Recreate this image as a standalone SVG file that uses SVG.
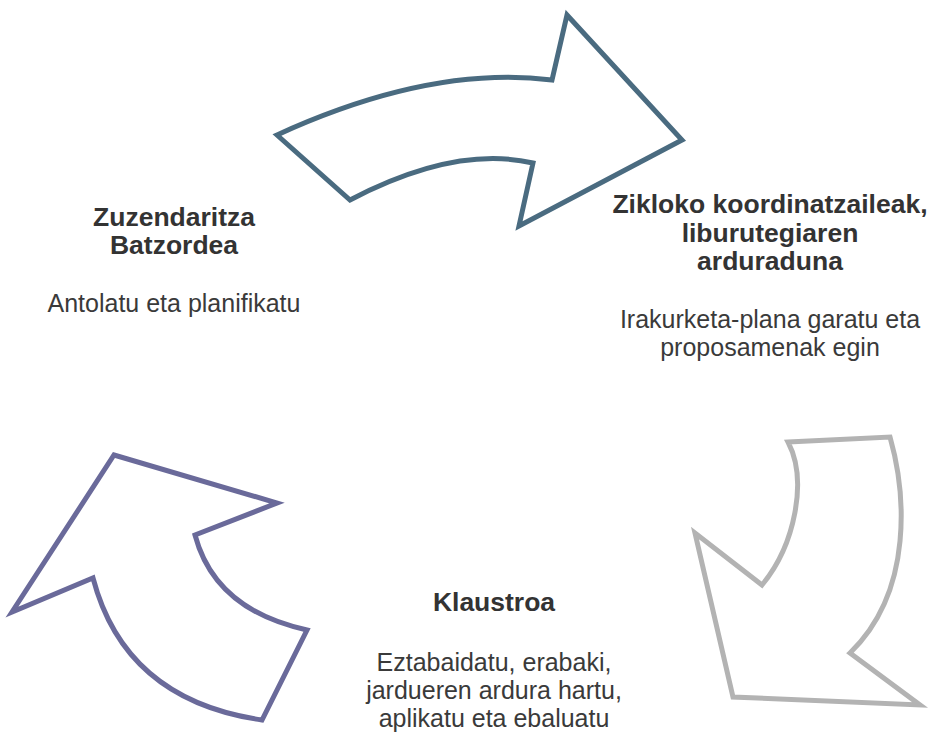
<svg xmlns="http://www.w3.org/2000/svg" width="933" height="733" viewBox="0 0 933 733">
<style>
.arrow{fill:#ffffff;stroke-width:5;stroke-linejoin:miter;stroke-miterlimit:10}
.t{font-family:"Liberation Sans",Arial,sans-serif;fill:#3a3a3a;text-anchor:middle}
.b{font-weight:bold;font-size:26.5px;fill:#333333}
.r{font-size:25px}
</style>
<rect width="933" height="733" fill="#ffffff"/>
<g id="connectors">
<path id="arrow-top" class="arrow" stroke="#4a6b80" d="M277,135 Q430,65 552,80 L567,15 L682,140 L519,226 L533,163 Q455,145 350,200 Z"/>
<path id="arrow-right" class="arrow" stroke="#b3b3b3" d="M788,442 L890,437 C905,490 915,590 850,653 L920,705 L733,697 L695,533 L762,585 C795,545 808,480 788,442 Z"/>
<path id="arrow-left" class="arrow" stroke="#6a6a9a" d="M114,455 L277,503 L195,535 Q215,610 307,630 L262,720 Q125,700 93,578 L12,612 Z"/>
</g>
<g id="node-zuzendaritza">
<text class="t b" x="174" y="226">Zuzendaritza</text>
<text class="t b" x="174" y="254">Batzordea</text>
<text class="t r" x="174" y="312">Antolatu eta planifikatu</text>
</g>
<g id="node-zikloko">
<text class="t b" x="770" y="213">Zikloko koordinatzaileak,</text>
<text class="t b" x="770" y="242">liburutegiaren</text>
<text class="t b" x="770" y="270">arduraduna</text>
<text class="t r" x="770" y="328">Irakurketa-plana garatu eta</text>
<text class="t r" x="770" y="356">proposamenak egin</text>
</g>
<g id="node-klaustroa">
<text class="t b" x="494" y="611">Klaustroa</text>
<text class="t r" x="494" y="671">Eztabaidatu, erabaki,</text>
<text class="t r" x="494" y="699">jardueren ardura hartu,</text>
<text class="t r" x="494" y="727">aplikatu eta ebaluatu</text>
</g>
</svg>
